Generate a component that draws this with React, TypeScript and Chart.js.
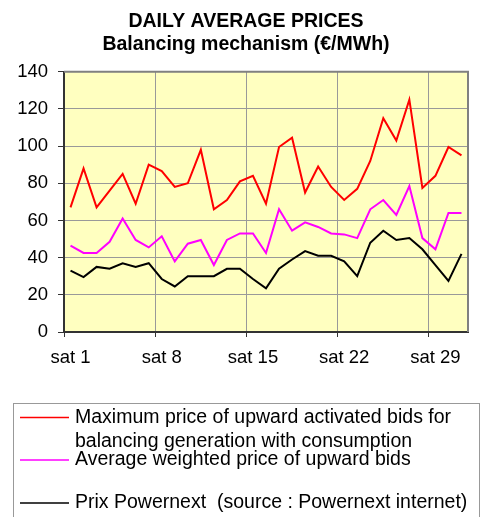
import React, { useEffect, useRef } from "react";
import { Chart, registerables } from "chart.js";

Chart.register(...registerables);

const FONT = "'Liberation Sans', Arial, Helvetica, sans-serif";

// ---- data ----
const days = [
  "1", "2", "3", "4", "5", "6", "7", "8", "9", "10",
  "11", "12", "13", "14", "15", "16", "17", "18", "19", "20",
  "21", "22", "23", "24", "25", "26", "27", "28", "29", "30", "31",
];
const weekTickLabels = ["sat 1", "sat 8", "sat 15", "sat 22", "sat 29"];

const maxUpwardPrice = [
  67, 88, 67, 76, 85, 69, 90, 86.5, 78, 80,
  98, 66, 71, 81, 84, 69, 99.5, 104.5, 75, 89,
  78, 71, 77, 92, 115, 103, 125, 77.5, 84, 99.5, 95,
];
const avgWeightedPrice = [
  46.5, 42.5, 42.5, 48.5, 61, 49.5, 45.5, 51.5, 38, 47.5,
  49.5, 36, 49.5, 53, 53, 42.5, 66, 54.5, 59, 56.5,
  53, 52.5, 50.5, 66, 71, 63, 78.5, 50.5, 44.5, 64, 64,
];
const powernextPrice = [
  33, 29.5, 35, 34, 37, 35, 37, 28.5, 24.5, 30,
  30, 30, 34, 34, 28.5, 23.5, 34, 39, 43.5, 41,
  41, 38, 30, 48, 54.5, 49.5, 50.5, 44.5, 36, 27.5, 42,
];

const seriesNames = [
  "Maximum price of upward activated bids for balancing generation with consumption",
  "Average weighted price of upward bids",
  "Prix Powernext  (source : Powernext internet)",
];
const seriesColors = ["#FF0000", "#FF00FF", "#000000"];

const titleLines = ["DAILY AVERAGE PRICES", "Balancing mechanism (€/MWh)"];

// ---- plugins ----
const plotFramePlugin = {
  id: "plotFrame",
  beforeDraw(chart: any) {
    const { ctx, chartArea } = chart;
    const { left, top, right, bottom } = chartArea;
    ctx.save();
    ctx.fillStyle = "#FFFFC0";
    ctx.fillRect(left, top, right - left, bottom - top);
    ctx.restore();
  },
  beforeDatasetsDraw(chart: any) {
    const { ctx, chartArea } = chart;
    const { left, top, right, bottom } = chartArea;
    ctx.save();
    ctx.strokeStyle = "#808080";
    ctx.lineWidth = 2;
    ctx.beginPath();
    ctx.moveTo(left, top);
    ctx.lineTo(right, top);
    ctx.lineTo(right, bottom);
    ctx.stroke();
    ctx.restore();
  },
};

const boxLegendPlugin = {
  id: "boxLegend",
  afterDraw(chart: any) {
    const { ctx } = chart;
    const boxX = 13.5;
    const boxY = 403.5;
    const boxRight = 479.5;
    const lineX1 = 20;
    const lineX2 = 69;
    const textX = 75;
    const lineHeight = 24.5;
    const maxWidth = 400;
    const itemY = [417.5, 460, 503];
    ctx.save();
    ctx.strokeStyle = "#999999";
    ctx.lineWidth = 1;
    ctx.strokeRect(boxX, boxY, boxRight - boxX, 200);
    ctx.font = `19.5px ${FONT}`;
    ctx.textBaseline = "middle";
    ctx.textAlign = "left";
    chart.data.datasets.forEach((ds: any, i: number) => {
      const y = itemY[i];
      ctx.strokeStyle = ds.borderColor;
      ctx.lineWidth = 1.5;
      ctx.beginPath();
      ctx.moveTo(lineX1, y);
      ctx.lineTo(lineX2, y);
      ctx.stroke();
      const words = String(ds.label).split(" ");
      const lines: string[] = [];
      let cur = "";
      words.forEach((w) => {
        const test = cur ? cur + " " + w : w;
        if (cur && ctx.measureText(test).width > maxWidth) {
          lines.push(cur);
          cur = w;
        } else {
          cur = test;
        }
      });
      if (cur) lines.push(cur);
      ctx.fillStyle = "#000000";
      lines.forEach((ln, k) => {
        ctx.fillText(ln, textX, y + k * lineHeight);
      });
    });
    ctx.restore();
  },
};

export default function App() {
  const canvasRef = useRef<HTMLCanvasElement | null>(null);

  useEffect(() => {
    const canvas = canvasRef.current;
    if (!canvas) return;
    const datasets = [maxUpwardPrice, avgWeightedPrice, powernextPrice].map((values, i) => ({
      label: seriesNames[i],
      data: values,
      borderColor: seriesColors[i],
      backgroundColor: seriesColors[i],
      borderWidth: 2,
      pointRadius: 0,
      tension: 0,
      fill: false,
    }));

    const chart = new Chart(canvas, {
      type: "line",
      data: { labels: days, datasets },
      options: {
        responsive: false,
        animation: false,
        devicePixelRatio: 1,
        layout: { padding: { left: 12, right: 0, top: 0, bottom: 0 } },
        plugins: {
          legend: { display: false },
          tooltip: { enabled: false },
          title: {
            display: true,
            text: titleLines,
            color: "#000000",
            font: { family: FONT, size: 19.5, weight: "bold", lineHeight: 1.2 },
            padding: { top: 9.8, bottom: 15.1 },
          },
        },
        scales: {
          x: {
            type: "category",
            offset: true,
            grid: {
              offset: true,
              drawOnChartArea: true,
              tickLength: 5,
              color: (c: any) =>
                typeof c.index === "number" && c.index > 0 && c.index % 7 === 0 && c.index < days.length
                  ? "#999999"
                  : "rgba(0,0,0,0)",
              tickColor: (c: any) =>
                typeof c.index === "number" && c.index % 7 === 0 && c.index < days.length
                  ? "#333333"
                  : "rgba(0,0,0,0)",
              lineWidth: 1,
            },
            border: { color: "#333333", width: 2 },
            ticks: {
              autoSkip: false,
              maxRotation: 0,
              minRotation: 0,
              padding: 10,
              color: "#000000",
              font: { family: FONT, size: 18.5 },
              callback: (_v: any, index: number) =>
                index % 7 === 0 ? weekTickLabels[index / 7] ?? "" : "",
            },
            afterFit: (scale: any) => {
              scale.height = 185;
              scale.paddingRight = 12;
            },
          },
          y: {
            min: 0,
            max: 140,
            grid: {
              color: "#999999",
              tickColor: "#333333",
              tickLength: 6,
              lineWidth: 1,
            },
            border: { color: "#333333", width: 2 },
            ticks: {
              stepSize: 20,
              padding: 10,
              color: "#000000",
              font: { family: FONT, size: 18.5 },
            },
            afterFit: (scale: any) => {
              scale.width = 52;
            },
          },
        },
      },
      plugins: [plotFramePlugin, boxLegendPlugin],
    } as any);

    return () => chart.destroy();
  }, []);

  return (
    <div style={{ position: "absolute", left: 0, top: 0, width: 480, height: 517, background: "#ffffff" }}>
      <canvas ref={canvasRef} width={480} height={517} style={{ display: "block" }} />
    </div>
  );
}
